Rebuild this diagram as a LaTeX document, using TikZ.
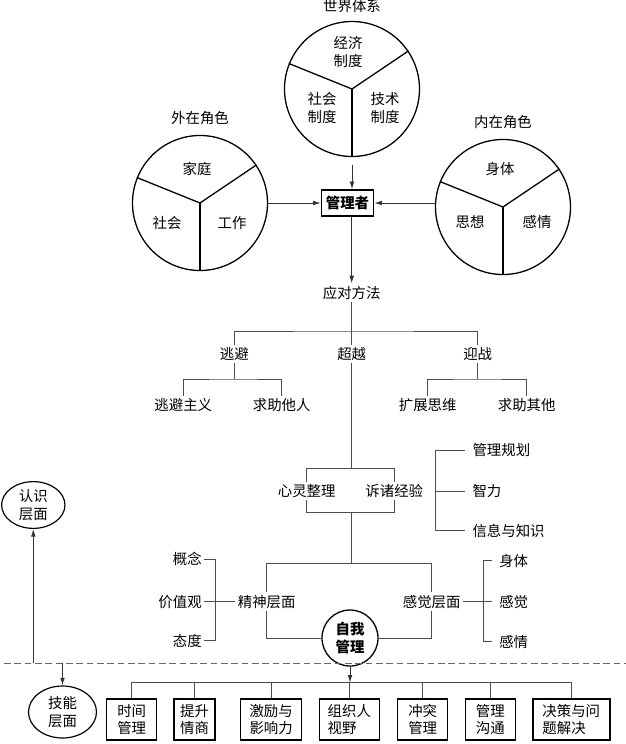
\documentclass[tikz,border=0pt]{standalone}
\usepackage{fontspec}
\setmainfont{Noto Sans CJK SC}
\usepackage{tikz}
\usetikzlibrary{
    shapes.geometric,
    positioning,
    arrows.meta
}

\begin{document}
\begin{tikzpicture}[
      x=0.03cm, y=-0.03cm,
      font=\fontsize{12.3pt}{14.8pt}\selectfont,
      pie/.style={circle, draw, line width=1.1pt, minimum size=4.05cm, inner sep=0pt},
      pieline/.style={line width=1.1pt},
      txt/.style={inner sep=2pt, align=center},
      ltxt/.style={inner sep=2pt, anchor=east},
      rtxt/.style={inner ysep=2pt, inner xsep=0.22cm, anchor=west},
      roletitle/.style={inner sep=2pt},
      mgrbox/.style={rectangle, draw, line width=1.4pt, minimum width=1.56cm,
          minimum height=0.78cm, inner sep=1pt, font=\fontsize{12.3pt}{14.8pt}\selectfont\bfseries},
      skill/.style={rectangle, draw, line width=1.3pt, minimum height=1.215cm,
          align=left, inner sep=1pt},
      layer/.style={ellipse, draw, line width=1pt, align=center, inner sep=1pt},
      self/.style={circle, draw, line width=1.1pt, minimum size=1.68cm, align=center,
          inner sep=1pt, font=\fontsize{12.3pt}{14.8pt}\selectfont\bfseries},
      tree/.style={line width=0.7pt, draw=black!70},
      arrow/.style={-{Latex[length=2.3mm,width=1.4mm]}, line width=0.7pt, draw=black!80},
      cutline/.style={dash pattern=on 2mm off 1.1mm, line width=0.7pt, draw=black!60}
    ]
    \useasboundingbox (0,0) rectangle (626,744);

    \node[pie] (world) at (352,89) {};
    \node[roletitle, above=0.18cm of world] (worldt) {世界体系};
    \node[txt] (jjzd) at (348,52) {经济\\制度};
    \node[txt] (shzd) at (322,108) {社会\\制度};
    \node[txt] (jszd) at (385,108) {技术\\制度};

    \node[pie] (outer) at (200,203) {};
    \node[roletitle, above=0.22cm of outer] (outert) {外在角色};
    \node[txt] (jt) at (197,169) {家庭};
    \node[txt] (sh) at (167,223) {社会};
    \node[txt] (gz) at (232,223) {工作};

    \node[pie] (inner) at (503,207) {};
    \node[roletitle, above=0.22cm of inner] (innert) {内在角色};
    \node[txt] (st) at (500,169) {身体};
    \node[txt] (sx) at (470,222) {思想};
    \node[txt] (gq) at (537,222) {感情};

    \foreach \c in {world,outer,inner}
      \foreach \a in {158,34,270}
        \draw[pieline] (\c.center) -- (\c.\a);

    \node[mgrbox] (mgr) at (347.5,203) {管理者};
    \draw[arrow] ([yshift=-0.24cm]world.south) -- (world.south |- mgr.north);
    \draw[arrow] (outer.east) -- (outer.east -| mgr.west);
    \draw[arrow] (mgr.east -| inner.west) -- (mgr.east);

    \node[txt] (ydff) at (351.7,292.7) {应对方法};
    \draw[arrow] (ydff.north |- mgr.south) -- (ydff.north);

    \node[txt] (tb) at (234.3,354) {逃避};
    \node[txt] (cy) at (351.7,354) {超越};
    \node[txt] (yz) at (477.7,354) {迎战};
    \node[txt] (tbzy) at (183.3,405) {逃避主义};
    \node[txt] (qztr) at (281.7,405) {求助他人};
    \node[txt] (kzsw) at (427.7,405) {扩展思维};
    \node[txt] (qzqt) at (526.7,405) {求助其他};

    \coordinate (lv1) at (0,331);
    \coordinate (lv2) at (0,379);
    \coordinate (lv3) at (0,468.3);
    \coordinate (lv4) at (0,512.3);
    \coordinate (lv5) at (0,563.3);
    \coordinate (lv6) at (0,682.7);
    \coordinate (cut) at (0,663.3);

    \draw[tree] (ydff.south) -- (cy.north);
    \draw[tree] (tb.north) |- (cy.north |- lv1) -| (yz.north);
    \draw[tree] (tb.south) -- (tb.south |- lv2);
    \draw[tree] (tbzy.north) |- (tb.south |- lv2) -| (qztr.north);
    \draw[tree] (yz.south) -- (yz.south |- lv2);
    \draw[tree] (kzsw.north) |- (yz.south |- lv2) -| (qzqt.north);

    \node[txt] (xlzl) at (306.7,491) {心灵整理};
    \node[txt] (szjy) at (394.3,491) {诉诸经验};
    \draw[tree] (cy.south) -- (cy.south |- lv3);
    \draw[tree] (xlzl.north) |- (szjy.north |- lv3) -- (szjy.north);
    \draw[tree] (xlzl.south) |- (szjy.south |- lv4) -- (szjy.south);

    \node[rtxt] (glgh) at (465,450.3) {管理规划};
    \node[rtxt] (zl) at (465,491) {智力};
    \node[rtxt] (xxzs) at (465,530.7) {信息与知识};
    \coordinate (br1) at (435.7,491);
    \draw[tree] (glgh.west) -| (br1) |- (xxzs.west);
    \draw[tree] (br1) -- (zl.west);

    \node[txt] (jscm) at (266.7,601.7) {精神层面};
    \node[txt] (gjcm) at (431.7,601.7) {感觉层面};
    \node[self] (zwgl) at (350,638) {自我\\管理};
    \draw[tree] (cy.south |- lv4) -- (cy.south |- lv5);
    \draw[tree] (jscm.north) |- (gjcm.north |- lv5) -- (gjcm.north);
    \draw[tree] (jscm.south) |- (zwgl.west);
    \draw[tree] (gjcm.south) |- (zwgl.east);

    \node[ltxt] (gn) at (204.3,559.3) {概念};
    \node[ltxt] (jzg) at (204.3,601.7) {价值观};
    \node[ltxt] (td) at (204.3,640.7) {态度};
    \coordinate (br2) at (215.7,601.7);
    \draw[tree] (gn.east) -| (br2) |- (td.east);
    \draw[tree] (jzg.east) -- (jscm.west);

    \node[rtxt] (st2) at (491.7,560.7) {身体};
    \node[rtxt] (gj2) at (491.7,601.7) {感觉};
    \node[rtxt] (gq2) at (491.7,641.7) {感情};
    \coordinate (br3) at (483.3,601.7);
    \draw[tree] (st2.west) -| (br3) |- (gq2.west);
    \draw[tree] (gjcm.east) -- (gj2.west);

    \draw[cutline] (4,663.3) -- (626,663.3);

    \node[layer, minimum width=1.9cm, minimum height=1.3cm] (rscm) at (33.3,505) {认识\\层面};
    \node[layer, minimum width=2.04cm, minimum height=1.56cm] (jncm) at (62.5,712) {技能\\层面};
    \draw[arrow] (rscm.south |- cut) -- (rscm.south);
    \draw[arrow] (jncm.north |- cut) -- (jncm.north);

    \node[skill, minimum width=1.5cm] (sjgl) at (131.7,719.5) {时间\\管理};
    \node[skill, minimum width=1.23cm] (tsqs) at (194.5,719.5) {提升\\情商};
    \node[skill, minimum width=1.83cm] (jlyx) at (271.2,719.5) {激励与\\影响力};
    \node[skill, minimum width=1.8cm] (zzrs) at (349.3,719.5) {组织人\\视野};
    \node[skill, minimum width=1.5cm] (ctgl) at (422.7,719.5) {冲突\\管理};
    \node[skill, minimum width=1.5cm] (glgt) at (490.3,719.5) {管理\\沟通};
    \node[skill, minimum width=2.31cm] (jcwt) at (571.3,719.5) {决策与问\\题解决};

    \draw[arrow] (zwgl.south) -- (zwgl.south |- lv6);
    \draw[tree] (sjgl.north) |- (zzrs.north |- lv6) -| (jcwt.north);
    \foreach \b in {tsqs,jlyx,zzrs,ctgl,glgt}
      \draw[tree] (\b.north) -- (\b.north |- lv6);
  \end{tikzpicture}
\end{document}
